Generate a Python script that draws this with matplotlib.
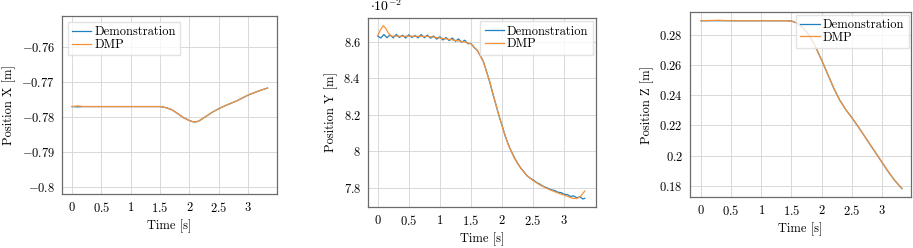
import matplotlib
matplotlib.use("Agg")
import matplotlib.pyplot as plt
from matplotlib.ticker import FuncFormatter

plt.rcParams['font.family'] = 'serif'
plt.rcParams['font.serif'] = ['cmr10', 'DejaVu Serif']
plt.rcParams['mathtext.fontset'] = 'cm'
plt.rcParams['axes.formatter.use_mathtext'] = True

# ---- data ----
# position X
t_x = [0, 0.1, 0.2, 0.5, 1.0, 1.5, 1.6, 1.7, 1.8, 1.9, 2.0, 2.05, 2.1, 2.15, 2.2, 2.3,
       2.4, 2.5, 2.6, 2.8, 3.0, 3.2, 3.33]
x_demo = [-0.7771, -0.7772, -0.7771, -0.7771, -0.7771, -0.7771, -0.7774, -0.7780,
          -0.7791, -0.7803, -0.7811, -0.7814, -0.7815, -0.7813, -0.7808, -0.7797,
          -0.7786, -0.7777, -0.7769, -0.7755, -0.7738, -0.7725, -0.7718]
x_dmp = [-0.7771, -0.7769, -0.7771, -0.7771, -0.7771, -0.7771, -0.7774, -0.7780,
         -0.7791, -0.7803, -0.7811, -0.7814, -0.7815, -0.7813, -0.7808, -0.7797,
         -0.7786, -0.7777, -0.7769, -0.7755, -0.7738, -0.7725, -0.7718]

# position Y (x 1e-2)
t_y_demo = [0.00, 0.05, 0.10, 0.15, 0.20, 0.25, 0.30, 0.35, 0.40, 0.45, 0.50, 0.55,
            0.60, 0.65, 0.70, 0.75, 0.80, 0.85, 0.90, 0.95, 1.00, 1.05, 1.10, 1.15,
            1.20, 1.25, 1.30, 1.35, 1.40, 1.45, 1.50, 1.55, 1.60, 1.65, 1.70, 1.75,
            1.80, 1.85, 1.90, 1.95, 2.00, 2.05, 2.10, 2.15, 2.20, 2.25, 2.30, 2.35,
            2.40, 2.45, 2.50, 2.55, 2.60, 2.65, 2.70, 2.75, 2.80, 2.85, 2.90, 2.95,
            3.00, 3.05, 3.10, 3.15, 3.20, 3.25, 3.30, 3.33]
y_demo = [8.633, 8.622, 8.641, 8.624, 8.639, 8.623, 8.642, 8.625, 8.637, 8.622, 8.640, 8.625,
          8.636, 8.623, 8.641, 8.624, 8.638, 8.621, 8.633, 8.616, 8.629, 8.611, 8.625, 8.608,
          8.622, 8.604, 8.617, 8.599, 8.610, 8.591, 8.592, 8.570, 8.554, 8.526, 8.492, 8.438,
          8.382, 8.316, 8.257, 8.194, 8.142, 8.083, 8.037, 7.998, 7.964, 7.933, 7.908, 7.887,
          7.866, 7.852, 7.842, 7.829, 7.820, 7.809, 7.801, 7.794, 7.787, 7.783, 7.774, 7.772,
          7.763, 7.761, 7.751, 7.754, 7.744, 7.749, 7.737, 7.741]
t_y_dmp = [0.00, 0.05, 0.09, 0.13, 0.18, 0.22, 0.50, 0.80, 1.00, 1.20, 1.40, 1.50, 1.60,
           1.70, 1.80, 1.90, 2.00, 2.10, 2.20, 2.30, 2.40, 2.50, 2.60, 2.70, 2.80, 2.90,
           3.00, 3.10, 3.15, 3.20, 3.25, 3.30, 3.33]
y_dmp = [8.635, 8.670, 8.690, 8.675, 8.645, 8.632, 8.632, 8.631, 8.622, 8.612, 8.600, 8.590,
         8.555, 8.490, 8.385, 8.258, 8.138, 8.035, 7.960, 7.906, 7.864, 7.838, 7.816, 7.798,
         7.783, 7.770, 7.758, 7.745, 7.740, 7.740, 7.748, 7.768, 7.781]

# position Z
t_z = [0, 0.3, 0.5, 1.0, 1.4, 1.5, 1.6, 1.7, 1.8, 1.9, 2.0, 2.1, 2.2, 2.3, 2.4, 2.5,
       2.6, 2.7, 2.8, 2.9, 3.0, 3.1, 3.2, 3.33]
z_demo = [0.2895, 0.2895, 0.2895, 0.2895, 0.2895, 0.2893, 0.2878, 0.2845, 0.2795, 0.2720,
          0.2634, 0.2541, 0.2448, 0.2368, 0.2305, 0.2252, 0.2195, 0.2135, 0.2075, 0.2015,
          0.1955, 0.1895, 0.1840, 0.1780]
z_dmp = [0.2895, 0.2898, 0.2895, 0.2895, 0.2895, 0.2893, 0.2878, 0.2845, 0.2795, 0.2720,
         0.2634, 0.2541, 0.2448, 0.2368, 0.2305, 0.2252, 0.2195, 0.2135, 0.2075, 0.2015,
         0.1955, 0.1895, 0.1840, 0.1782]

x_ticks = [0, 0.5, 1, 1.5, 2, 2.5, 3]
blue = '#1f80c0'
orange = '#f7923a'
fs = 9

W, H = 913, 248
fig = plt.figure(figsize=(W / 100, H / 100), dpi=100)


def box(l, r, t, b):
    return [l / W, (H - b) / H, (r - l) / W, (b - t) / H]


fmt = FuncFormatter(lambda v, p: '$%s$' % ('%g' % round(v, 6)))


def style(ax, ylabel):
    ax.set_xticks(x_ticks)
    ax.xaxis.set_major_formatter(fmt)
    ax.yaxis.set_major_formatter(fmt)
    ax.grid(True, color='#d9d9d9', linewidth=0.7)
    ax.set_axisbelow(True)
    ax.tick_params(length=0, labelsize=fs, pad=5)
    for s in ax.spines.values():
        s.set_color('#6b6b6b')
        s.set_linewidth(0.9)
    ax.set_xlabel('Time [s]', fontsize=fs, labelpad=3)
    ax.set_ylabel(ylabel, fontsize=fs, labelpad=4)


leg_kw = dict(fontsize=fs, fancybox=False, edgecolor='#dddddd', handlelength=1.55,
              handletextpad=0.25, borderpad=0.35, labelspacing=0.05)

ax1 = fig.add_axes(box(62, 277, 16, 194))
ax1.plot(t_x, x_demo, color=blue, lw=0.9, label='Demonstration')
ax1.plot(t_x, x_dmp, color=orange, lw=0.9, label='DMP')
ax1.set_xlim(-0.17, 3.49)
ax1.set_ylim(-0.8021, -0.7512)
ax1.set_yticks([-0.8, -0.79, -0.78, -0.77, -0.76])
style(ax1, 'Position X [m]')
ax1.legend(loc='upper left', borderaxespad=0.45, **leg_kw)

ax2 = fig.add_axes(box(368, 596, 18, 207))
ax2.plot(t_y_demo, y_demo, color=blue, lw=0.9, label='Demonstration')
ax2.plot(t_y_dmp, y_dmp, color=orange, lw=0.9, label='DMP')
ax2.set_xlim(-0.155, 3.51)
ax2.set_ylim(7.693, 8.732)
ax2.set_yticks([7.8, 8.0, 8.2, 8.4, 8.6])
style(ax2, 'Position Y [m]')
ax2.text(0.01, 1.02, r'$\cdot 10^{-2}$', transform=ax2.transAxes, fontsize=fs + 1,
         ha='left', va='bottom')
ax2.legend(loc='upper right', borderaxespad=0.25, **leg_kw)

ax3 = fig.add_axes(box(690, 911, 12, 197))
ax3.plot(t_z, z_demo, color=blue, lw=0.9, label='Demonstration')
ax3.plot(t_z, z_dmp, color=orange, lw=0.9, label='DMP')
ax3.set_xlim(-0.18, 3.48)
ax3.set_ylim(0.1725, 0.2953)
ax3.set_yticks([0.18, 0.2, 0.22, 0.24, 0.26, 0.28])
style(ax3, 'Position Z [m]')
ax3.legend(loc='upper right', borderaxespad=0.2, **leg_kw)

fig.savefig('out.png', dpi=100)
